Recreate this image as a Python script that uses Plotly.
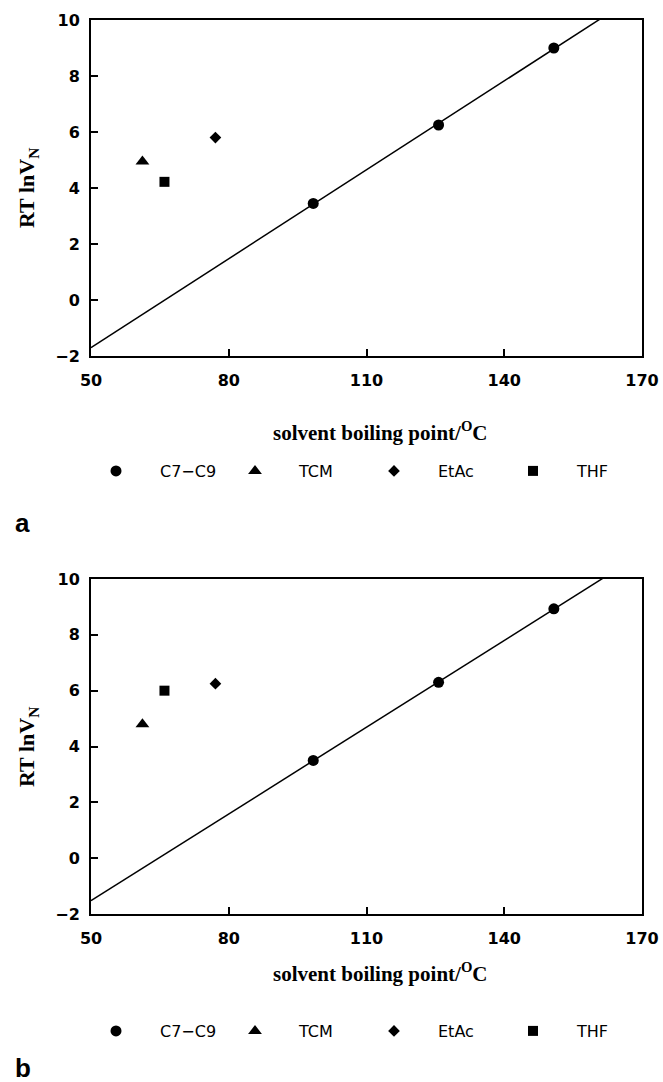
import numpy as np
import plotly.graph_objects as go

# ---- data ----
series_names = ["C7−C9", "TCM", "EtAc", "THF"]
# panel a
a_c7c9_x = [98.4, 125.7, 150.8]
a_c7c9_y = [3.45, 6.25, 9.0]
a_tcm_x = [61.2]
a_tcm_y = [4.95]
a_etac_x = [77.1]
a_etac_y = [5.8]
a_thf_x = [66.0]
a_thf_y = [4.22]
# panel b
b_c7c9_x = [98.4, 125.7, 150.8]
b_c7c9_y = [3.5, 6.3, 8.93]
b_tcm_x = [61.2]
b_tcm_y = [4.8]
b_etac_x = [77.1]
b_etac_y = [6.25]
b_thf_x = [66.0]
b_thf_y = [6.0]

x_ticks = [50, 80, 110, 140, 170]
y_ticks = [-2, 0, 2, 4, 6, 8, 10]
line_x_range = [50, 170]

W, H = 663, 1082
fig = go.Figure()

symbols = ["circle", "triangle-up", "diamond", "square"]
sizes = [11, 12, 9, 10]

def add_panel(xs, ys, xa, ya, legend):
    for name, x, y, sym, sz in zip(series_names, xs, ys, symbols, sizes):
        fig.add_trace(go.Scatter(x=x, y=y, mode="markers", name=name,
                                 marker=dict(symbol=sym, size=sz, color="black"),
                                 xaxis=xa, yaxis=ya, legend=legend, cliponaxis=False))
    # fitted line through the C7-C9 points
    k, b = np.polyfit(xs[0], ys[0], 1)
    lx = np.array(line_x_range, dtype=float)
    fig.add_trace(go.Scatter(x=lx, y=k * lx + b, mode="lines", showlegend=False,
                             line=dict(color="black", width=1.5),
                             xaxis=xa, yaxis=ya, cliponaxis=True))

add_panel([a_c7c9_x, a_tcm_x, a_etac_x, a_thf_x],
          [a_c7c9_y, a_tcm_y, a_etac_y, a_thf_y], "x", "y", "legend")
add_panel([b_c7c9_x, b_tcm_x, b_etac_x, b_thf_x],
          [b_c7c9_y, b_tcm_y, b_etac_y, b_thf_y], "x2", "y2", "legend2")

tickfont = dict(family="DejaVu Sans", size=16, color="black", weight="bold")

def xaxis(domain, anchor):
    return dict(domain=domain, anchor=anchor, range=[50, 170], tickvals=x_ticks,
                ticks="inside", ticklen=7, tickwidth=1.5, tickcolor="black",
                showline=True, linewidth=2, linecolor="black", mirror=True,
                showgrid=False, zeroline=False, tickfont=tickfont,
                ticklabelstandoff=9, automargin=False)

def yaxis(domain, anchor):
    return dict(domain=domain, anchor=anchor, range=[-2, 10], tickvals=y_ticks,
                ticks="inside", ticklen=7, tickwidth=1.5, tickcolor="black",
                showline=True, linewidth=2, linecolor="black", mirror=True,
                showgrid=False, zeroline=False, tickfont=tickfont,
                ticklabelstandoff=6, automargin=False)

legfont = dict(family="DejaVu Sans", size=16, color="black")
xd = [91 / W, 642 / W]
fig.update_layout(
    width=W, height=H, margin=dict(l=0, r=0, t=0, b=0, autoexpand=False),
    paper_bgcolor="white", plot_bgcolor="white",
    xaxis=xaxis(xd, "y"), yaxis=yaxis([1 - 356 / H, 1 - 20 / H], "x"),
    xaxis2=xaxis(xd, "y2"), yaxis2=yaxis([1 - 914 / H, 1 - 579 / H], "x2"),
    legend=dict(orientation="h", x=72 / W, xanchor="left", y=1 - 471 / H, yanchor="middle",
                itemwidth=78, entrywidth=46, font=legfont,
                bgcolor="rgba(0,0,0,0)", borderwidth=0),
    legend2=dict(orientation="h", x=72 / W, xanchor="left", y=1 - 1031 / H, yanchor="middle",
                 itemwidth=78, entrywidth=46, font=legfont,
                 bgcolor="rgba(0,0,0,0)", borderwidth=0),
)

serif = dict(family="Liberation Serif", size=21, color="black", weight="bold")
ann = []
for cy_title, cy_y, lab, lab_y in [(432, 188, "a", 523), (973, 747, "b", 1068)]:
    ann.append(dict(text="solvent boiling point/<sup>O</sup>C", x=380 / W, y=1 - cy_title / H,
                    xref="paper", yref="paper", showarrow=False, font=serif,
                    xanchor="center", yanchor="middle"))
    ann.append(dict(text="RT lnV<sub>N</sub>", x=28 / W, y=1 - cy_y / H, textangle=-90,
                    xref="paper", yref="paper", showarrow=False, font=dict(serif, size=22),
                    xanchor="center", yanchor="middle"))
    ann.append(dict(text=lab, x=13 / W, y=1 - lab_y / H, xref="paper", yref="paper",
                    showarrow=False, xanchor="left", yanchor="middle",
                    font=dict(family="Liberation Sans", size=26, color="black", weight="bold")))
fig.update_layout(annotations=ann)

fig.write_html("out.html", config={"displayModeBar": False},
               post_script="document.body.style.margin='0';document.body.style.overflow='hidden';")
